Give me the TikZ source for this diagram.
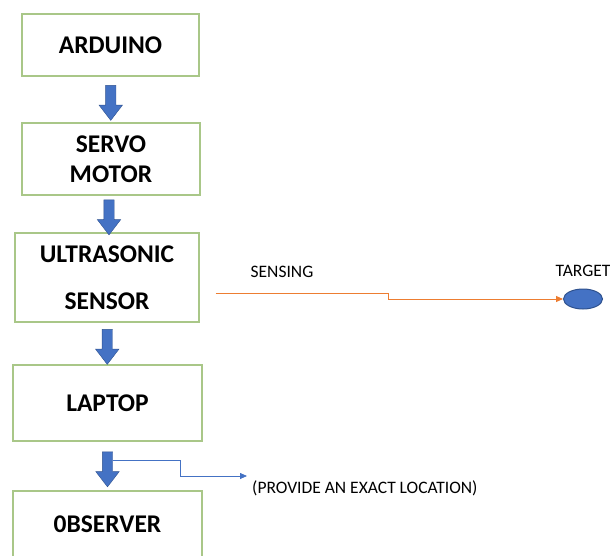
\documentclass[tikz,border=0pt]{standalone}
\usepackage{fontspec}
\setmainfont{Carlito}
\usetikzlibrary{arrows.meta,shapes.arrows,shapes.geometric,positioning,calc}

\definecolor{boxgreen}{RGB}{169,199,136}
\definecolor{arrblue}{RGB}{68,114,196}
\definecolor{arrdark}{RGB}{47,82,143}
\definecolor{senseorange}{RGB}{237,125,49}

\begin{document}
\begin{tikzpicture}[x=1pt, y=-1pt,
		block/.style      = {draw=boxgreen, line width=1.4pt, fill=white, align=center, inner sep=0pt, font=\fontsize{25.5}{30}\selectfont\bfseries},
		down arrow/.style = {single arrow, draw=arrdark, fill=arrblue, thin, rotate=-90, minimum height=35pt, minimum width=23pt, inner sep=5pt, single arrow head extend=6.5pt, single arrow tip angle=75},
		note/.style       = {font=\fontsize{17.5}{20}\selectfont, inner sep=1pt},
		>={Triangle[length=7pt,width=6pt]}]
		
		\useasboundingbox (0,0) rectangle (610,556);
		\clip (0,0) rectangle (610,556);
		
		% the chain of blocks, top to bottom
		\node[block, minimum width=177pt, minimum height=62pt] (ard) at (110.5,45) {ARDUINO};
		\node[block, minimum width=178pt, minimum height=72pt] (servo) at (111,159) {SERVO\\MOTOR};
		\node[block, minimum width=184pt, minimum height=89pt] (ultra) at (107,277.5) {ULTRASONIC\\[17pt]SENSOR};
		\node[block, minimum width=189pt, minimum height=76pt] (laptop) at (107.5,403) {LAPTOP};
		\node[block, minimum width=189pt, minimum height=66pt] (obs) at (107.5,524) {0BSERVER};
		
		% block arrows between the blocks
		\node[down arrow] (a1) at ($(ard.south)!0.5!(servo.north)$) {};
		\node[down arrow] (a2) at ($(servo.south)!0.5!(ultra.north)$) {};
		\node[down arrow] (a3) at ($(ultra.south)!0.5!(laptop.north)$) {};
		\node[down arrow] (a4) at ($(laptop.south)!0.5!(obs.north)$) {};
		
		% sensing the target
		\node[ellipse, draw=arrdark, fill=arrblue, line width=1pt, minimum width=39pt, minimum height=20pt, inner sep=0pt] (target) at (583,299) {};
		\node[note, above=11pt of target] (tlabel) {TARGET};
		\node[note] (sensing) at (282,272) {SENSING};
		\coordinate (sstart) at ($(ultra.east)+(16,15.5)$);
		\draw[->, senseorange, line width=0.9pt] (sstart) -- ++(173,0) |- (target.west);
		
		% location output
		\node[note, anchor=west] (loc) at (251,488) {(PROVIDE AN EXACT LOCATION)};
		\coordinate (locend) at ($(loc.west)+(-4,-12)$);
		\draw[->, arrblue, line width=0.8pt] ($(a4.center)+(5,-6)$) -- ++(68,0) |- (locend);
		
	\end{tikzpicture}
\end{document}
